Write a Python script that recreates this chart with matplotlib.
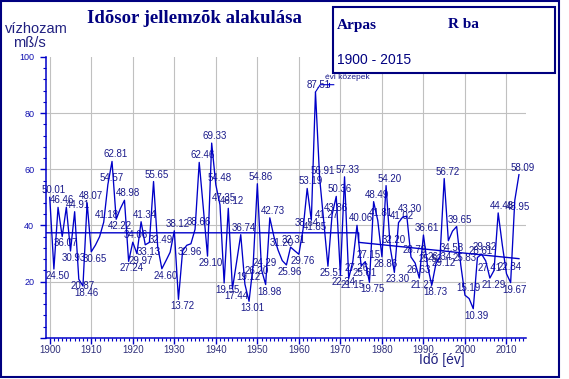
import numpy as np
import matplotlib
matplotlib.use("Agg")
import matplotlib.pyplot as plt
from matplotlib.patches import Rectangle
from matplotlib.ticker import MultipleLocator

years = list(range(1900, 2014))
values = [
    50.01, 24.50, 46.46, 36.07, 46.50, 30.93, 44.91, 20.87, 18.46, 48.07,   # 1900-1909
    30.65, 33.00, 36.00, 41.18, 54.57, 62.81, 42.22, 46.00, 48.98, 27.24,   # 1910-1919
    34.06, 29.97, 41.34, 33.13, 34.00, 55.65, 32.49, 24.60, 27.50, 30.50,   # 1920-1929
    38.12, 13.72, 31.00, 32.96, 33.50, 38.66, 62.46, 46.00, 29.10, 69.33,   # 1930-1939
    54.48, 47.35, 19.55, 46.12, 17.44, 27.00, 36.74, 19.12, 13.01, 26.20,   # 1940-1949
    54.86, 24.29, 18.98, 42.73, 36.00, 31.20, 27.50, 25.96, 32.31, 31.00,   # 1950-1959
    29.76, 38.54, 53.19, 41.85, 87.51, 56.91, 41.27, 25.51, 43.86, 50.36,   # 1960-1969
    22.34, 57.33, 21.15, 27.26, 40.06, 25.61, 27.15, 19.75, 48.49, 41.81,   # 1970-1979
    28.86, 54.20, 32.20, 23.30, 41.02, 43.00, 43.30, 28.79, 26.63, 21.27,   # 1980-1989
    36.61, 25.52, 18.73, 26.34, 29.12, 56.72, 34.58, 38.00, 39.65, 25.83,   # 1990-1999
    15.19, 14.00, 10.39, 28.61, 29.82, 27.41, 21.29, 24.00, 44.48, 33.00,   # 2000-2009
    22.84, 19.67, 48.95, 58.09,                                             # 2010-2013
]

# labelled years: +1 label above the point, -1 below
label_years = [1900, 1901, 1902, 1903, 1905, 1906, 1907, 1908, 1909, 1910,
               1913, 1914, 1915, 1916, 1918, 1919, 1920, 1921, 1922, 1923,
               1925, 1926, 1927, 1930, 1931, 1933, 1935, 1936, 1938, 1939,
               1940, 1941, 1942, 1943, 1944, 1946, 1947, 1948, 1949, 1950,
               1951, 1952, 1953, 1955, 1957, 1958, 1960, 1961, 1962, 1963,
               1964, 1965, 1966, 1967, 1968, 1969, 1970, 1971, 1972, 1973,
               1974, 1975, 1976, 1977, 1978, 1979, 1980, 1981, 1982, 1983,
               1984, 1986, 1987, 1988, 1989, 1990, 1991, 1992, 1993, 1994,
               1995, 1996, 1998, 1999, 2000, 2002, 2003, 2004, 2005, 2006,
               2008, 2010, 2011, 2012, 2013]
label_dirs = [1, -1, 1, -1, -1, 1, -1, -1, 1, -1,
              1, 1, 1, -1, 1, -1, 1, -1, 1, -1,
              1, 1, -1, 1, -1, -1, 1, 1, -1, 1,
              1, 1, -1, 1, -1, 1, 1, -1, -1, 1,
              1, -1, 1, 1, -1, 1, -1, 1, 1, -1,
              1, 1, 1, -1, 1, 1, -1, 1, -1, -1,
              1, -1, 1, -1, 1, 1, -1, 1, 1, -1,
              1, 1, 1, -1, -1, 1, 1, -1, 1, -1,
              1, -1, 1, 1, 1, -1, 1, 1, -1, -1,
              1, 1, -1, -1, 1]

# period mean / trend lines
trend_x = [1899.1, 1974.4, 1974.4, 2013]
trend_y = [37.4, 37.4, 34.0, 28.2]

x_ticks = list(range(1900, 2020, 10))
y_ticks = [20, 40, 60, 80, 100]

title = "Idõsor jellemzõk alakulása"
ylabel1 = "vízhozam"
ylabel2 = "mß/s"
xlabel = "Idő [év]"
station = "Arpas"
river = "R ba"
period = "1900 - 2015"
series_name = "évi közepek"

NAVY = "#000080"
LINE = "#0000c8"
TXT = "#1a1a8a"

plt.rcParams['font.family'] = ['Liberation Sans', 'DejaVu Sans']

fig = plt.figure(figsize=(5.69, 3.79), dpi=100)
W, H = 569, 379
ax = fig.add_axes([46 / W, 1 - 337.9 / H, 480 / W, (337.9 - 56.9) / H])

ax.set_xlim(1899.1, 2014.7)
ax.set_ylim(0, 100)

ax.set_xticks(x_ticks)
ax.xaxis.set_minor_locator(MultipleLocator(1))
ax.set_yticks([0] + y_ticks)
ax.set_yticklabels([""] + [str(v) for v in y_ticks])
ax.yaxis.set_minor_locator(MultipleLocator(4))

for v in [20, 40, 60, 80]:
    ax.axhline(v, color="#c0c0c0", lw=0.8, zorder=0)
for v in x_ticks:
    if v <= 2014:
        ax.axvline(v, color="#c0c0c0", lw=0.8, zorder=0)

for s in ["top", "right"]:
    ax.spines[s].set_visible(False)
for s in ["left", "bottom"]:
    ax.spines[s].set_color(LINE)
    ax.spines[s].set_linewidth(1.1)

ax.tick_params(axis="x", which="major", direction="out", length=4, width=1, color=LINE,
               labelsize=7, labelcolor="#30307a", pad=1)
ax.tick_params(axis="x", which="minor", direction="out", length=2.5, width=0.8, color=LINE)
ax.tick_params(axis="y", which="major", direction="out", length=4.5, width=1, color=LINE,
               labelsize=6.5, labelcolor="#1010b0", pad=4)
ax.tick_params(axis="y", which="minor", direction="out", length=2.5, width=0.8, color=LINE)

ax.plot(years, values, color=LINE, lw=0.95, zorder=3)
ax.plot(trend_x, trend_y, color=LINE, lw=1.0, zorder=3)

vals = dict(zip(years, values))
for yr, d in zip(label_years, label_dirs):
    v = vals[yr]
    ax.annotate(f"{v:.2f}", (yr, v), xytext=(2.5, 5.0 * d), textcoords="offset points",
                ha="center", va="center", fontsize=7, color=TXT, zorder=2)

# series name callout at the peak
pk = years[int(np.argmax(values))]
pv = max(values)
ax.plot([pk, pk + 1.15, pk + 4.4], [pv, pv + 2.6, pv + 2.6], color=LINE, lw=0.8, zorder=3)
ax.plot([pk + 3.3, pk + 3.3], [pv + 2.0, pv + 3.2], color=LINE, lw=0.8, zorder=3)
ax.annotate(series_name, (pk, pv), xytext=(23, 10.5), textcoords="offset points",
            ha="center", va="center", fontsize=6, color=TXT, zorder=2)

# texts
fig.text(194 / W, 1 - 18.5 / H, title, ha="center", va="center", fontsize=13.5,
         fontweight="bold", family=["Liberation Serif", "DejaVu Serif"], color=NAVY)
fig.text(5 / W, 1 - 29 / H, ylabel1, ha="left", va="center", fontsize=10.5, color="#202080")
fig.text(13 / W, 1 - 43 / H, ylabel2, ha="left", va="center", fontsize=10.5, color="#202080")
fig.text(442 / W, 1 - 360 / H, xlabel, ha="center", va="center", fontsize=10, color="#202080")

# legend box
fig.patches.append(Rectangle((332.7 / W, 1 - 72.7 / H), 222.3 / W, 65.4 / H,
                             transform=fig.transFigure, facecolor="white",
                             edgecolor=NAVY, lw=1.5, zorder=5))
fig.text(337 / W, 1 - 25 / H, station, ha="left", va="center", fontsize=11,
         fontweight="bold", family=["Liberation Serif", "DejaVu Serif"], color=NAVY, zorder=6)
fig.text(447.7 / W, 1 - 25 / H, river, ha="left", va="center", fontsize=11,
         fontweight="bold", family=["Liberation Serif", "DejaVu Serif"], color=NAVY, zorder=6)
fig.text(336.7 / W, 1 - 60 / H, period, ha="left", va="center", fontsize=10,
         color=NAVY, zorder=6)

# outer frame
fig.patches.append(Rectangle((1 / W, 1 - 377 / H), 557.5 / W, 376 / H,
                             transform=fig.transFigure, facecolor="none",
                             edgecolor=NAVY, lw=1.5, zorder=7))

fig.savefig("out.png", dpi=100)
